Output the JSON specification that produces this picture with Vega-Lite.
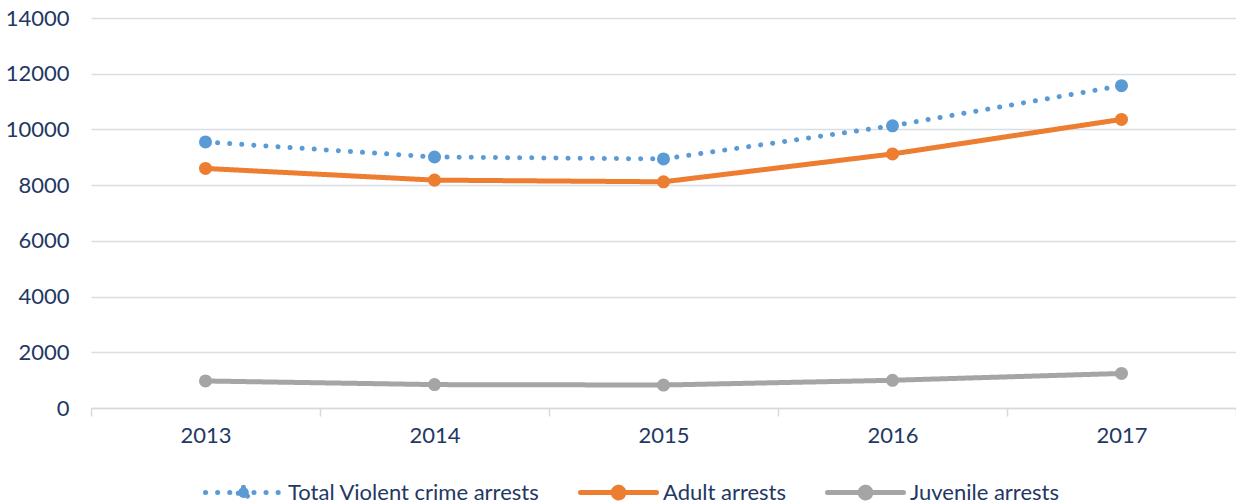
{
  "$schema": "https://vega.github.io/schema/vega-lite/v6.json",
  "width": 1145,
  "height": 390,
  "autosize": {"type": "none"},
  "padding": {"left": 91, "top": 18, "right": 0, "bottom": 96},
  "background": "white",
  "config": {
    "view": {"stroke": null},
    "font": "Lato"
  },
  "data": {
    "values": [
      {"year": "2013", "series": "Total Violent crime arrests", "value": 9550},
      {"year": "2014", "series": "Total Violent crime arrests", "value": 9010},
      {"year": "2015", "series": "Total Violent crime arrests", "value": 8940},
      {"year": "2016", "series": "Total Violent crime arrests", "value": 10130},
      {"year": "2017", "series": "Total Violent crime arrests", "value": 11570},
      {"year": "2013", "series": "Adult arrests", "value": 8600},
      {"year": "2014", "series": "Adult arrests", "value": 8180},
      {"year": "2015", "series": "Adult arrests", "value": 8120},
      {"year": "2016", "series": "Adult arrests", "value": 9120},
      {"year": "2017", "series": "Adult arrests", "value": 10360},
      {"year": "2013", "series": "Juvenile arrests", "value": 970},
      {"year": "2014", "series": "Juvenile arrests", "value": 840},
      {"year": "2015", "series": "Juvenile arrests", "value": 825},
      {"year": "2016", "series": "Juvenile arrests", "value": 995},
      {"year": "2017", "series": "Juvenile arrests", "value": 1240}
    ]
  },
  "encoding": {
    "x": {
      "field": "year",
      "type": "ordinal",
      "scale": {"type": "band", "paddingInner": 0, "paddingOuter": 0},
      "axis": {
        "title": null,
        "labelAngle": 0,
        "tickBand": "extent",
        "domainColor": "#D9D9D9",
        "domainWidth": 1.5,
        "tickColor": "#D9D9D9",
        "tickWidth": 1.5,
        "tickSize": 8,
        "labelFontSize": 22,
        "labelColor": "#1F3864",
        "labelPadding": 9,
        "grid": false
      }
    },
    "y": {
      "field": "value",
      "type": "quantitative",
      "scale": {"domain": [0, 14000], "nice": false},
      "axis": {
        "title": null,
        "values": [0, 2000, 4000, 6000, 8000, 10000, 12000, 14000],
        "format": "d",
        "domain": false,
        "ticks": false,
        "gridColor": "#D9DEE5",
        "gridWidth": 1.5,
        "labelFontSize": 22,
        "labelColor": "#1F3864",
        "labelPadding": 22
      }
    },
    "color": {
      "field": "series",
      "type": "nominal",
      "scale": {
        "domain": ["Total Violent crime arrests", "Adult arrests", "Juvenile arrests"],
        "range": ["#5B9BD5", "#ED7D31", "#A5A5A5"]
      },
      "legend": {
        "orient": "none",
        "legendX": 112,
        "legendY": 434,
        "direction": "horizontal",
        "title": null,
        "labelFontSize": 22,
        "labelColor": "#1F3864",
        "labelLimit": 500,
        "symbolType": "M-1,0L1,0M0,-0.14A0.14,0.14 0 1,1 0,0.14A0.14,0.14 0 1,1 0,-0.14",
        "symbolSize": 5776,
        "symbolStrokeWidth": 5,
        "columnPadding": 30,
        "labelOffset": 4,
        "encoding": {"symbols": {"strokeCap": {"value": "round"}}}
      }
    }
  },
  "layer": [
    {
      "mark": {"type": "line", "strokeWidth": 5, "strokeCap": "round"},
      "encoding": {
        "strokeDash": {
          "field": "series",
          "type": "nominal",
          "scale": {
            "domain": ["Total Violent crime arrests", "Adult arrests", "Juvenile arrests"],
            "range": [[0.1, 12], [1, 0], [1, 0]]
          },
          "legend": {
            "orient": "none",
            "legendX": 112,
            "legendY": 434,
            "direction": "horizontal",
            "title": null,
            "labelFontSize": 22,
            "labelColor": "#1F3864",
            "labelLimit": 500,
            "symbolType": "M-1,0L1,0M0,-0.14A0.14,0.14 0 1,1 0,0.14A0.14,0.14 0 1,1 0,-0.14",
            "symbolSize": 5776,
            "symbolStrokeWidth": 5,
            "columnPadding": 30,
            "labelOffset": 4,
            "encoding": {"symbols": {"strokeCap": {"value": "round"}}}
          }
        }
      }
    },
    {
      "mark": {"type": "point", "filled": true, "opacity": 1, "size": 170}
    }
  ]
}
